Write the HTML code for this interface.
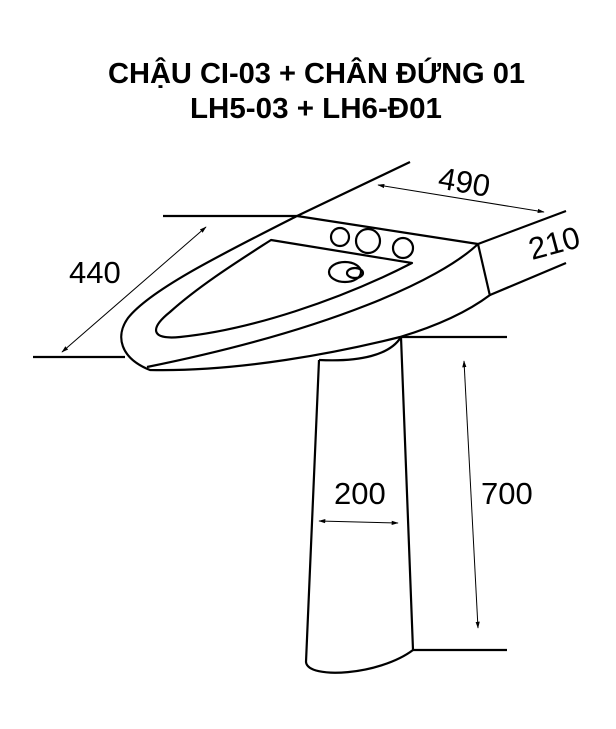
<!DOCTYPE html>
<html><head><meta charset="utf-8"><style>html,body{margin:0;padding:0;background:#fff}svg{display:block}</style></head>
<body>
<svg width="616" height="729" viewBox="0 0 616 729" xmlns="http://www.w3.org/2000/svg">
<defs>
<marker id="a" viewBox="0 0 10 10" refX="9" refY="5" markerWidth="7" markerHeight="7" orient="auto-start-reverse"><path d="M0,2 L10,5 L0,8 z" fill="#000"/></marker>
</defs>
<g font-family="Liberation Sans, sans-serif" font-weight="bold" font-size="29" fill="#000">
<text x="108" y="83" textLength="417" lengthAdjust="spacingAndGlyphs">CHẬU CI-03 + CHÂN ĐỨNG 01</text>
<text x="190" y="118" textLength="252" lengthAdjust="spacingAndGlyphs">LH5-03 + LH6-Đ01</text>
</g>
<g fill="none" stroke="#000" stroke-width="2.2" stroke-linejoin="round">
<line x1="163" y1="216" x2="297" y2="216"/>
<line x1="33" y1="357" x2="125" y2="357"/>
<line x1="401" y1="337" x2="507" y2="337"/>
<line x1="413" y1="650" x2="507" y2="650"/>
<path d="M410,162 L297,216 C220,255 150,290 128,318 C115,336 120,358 150,370 C240,372 340,352 400,337 C440,325 470,310 490,295"/>
<line x1="297" y1="216" x2="478" y2="244"/>
<line x1="478" y1="244" x2="566" y2="211"/>
<line x1="478" y1="244" x2="490" y2="296"/>
<line x1="490" y1="295" x2="566" y2="263"/>
<path d="M478,244 C440,280 330,330 147,367"/>
<path d="M271,240 L412,263 C340,300 250,330 180,337 C150,340 150,328 170,312 C200,285 240,260 271,240 Z"/>
<path d="M319,360 C360,362 390,355 401,337"/>
<path d="M319,360 L306,662 C308,680 380,675 413,650 L401,337"/>
<circle cx="340" cy="237" r="9"/>
<circle cx="368" cy="241" r="12"/>
<circle cx="403" cy="248" r="10"/>
<ellipse cx="345" cy="272" rx="16" ry="10"/>
<ellipse cx="355" cy="273" rx="8" ry="5"/>
</g>
<g stroke="#000" stroke-width="1" fill="none">
<line x1="206" y1="227" x2="62" y2="352" marker-start="url(#a)" marker-end="url(#a)"/>
<line x1="378" y1="185" x2="544" y2="212" marker-start="url(#a)" marker-end="url(#a)"/>
<line x1="319" y1="521" x2="398" y2="523" marker-start="url(#a)" marker-end="url(#a)"/>
<line x1="464" y1="361" x2="478" y2="628" marker-start="url(#a)" marker-end="url(#a)"/>
</g>
<g font-family="Liberation Sans, sans-serif" font-size="31" fill="#000">
<text x="69" y="283">440</text>
<text x="0" y="0" transform="translate(437,188) rotate(10)">490</text>
<text x="0" y="0" transform="translate(532,260) rotate(-15)">210</text>
<text x="334" y="504">200</text>
<text x="481" y="504">700</text>
</g>
</svg>
</body></html>
